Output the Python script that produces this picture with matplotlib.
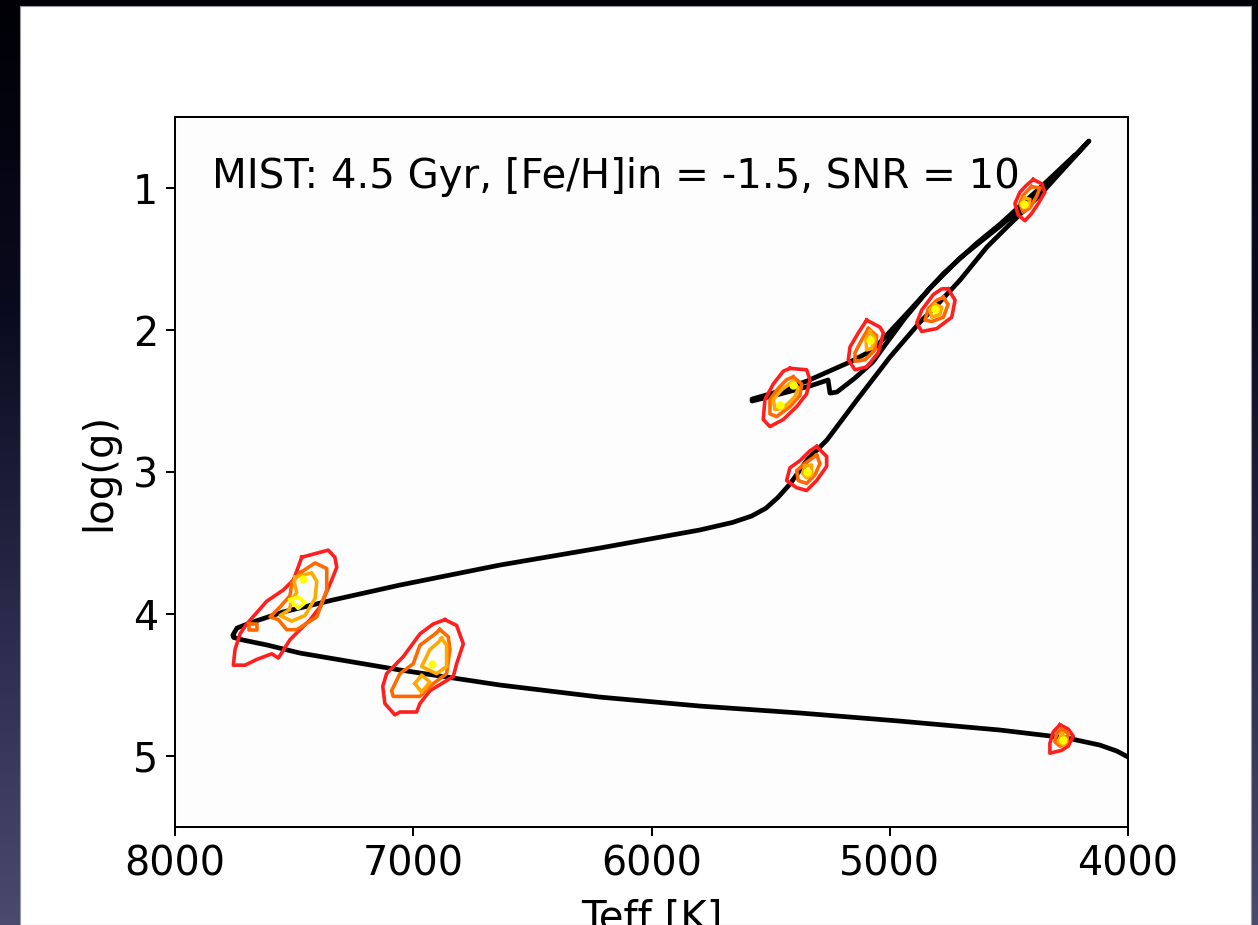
import numpy as np
import matplotlib
matplotlib.use("Agg")
import matplotlib.pyplot as plt
from matplotlib.colors import LinearSegmentedColormap
from matplotlib.patches import Rectangle

# MIST isochrone: main sequence -> turnoff -> subgiant -> RGB tip
ms_rgb_teff = [4000, 4047, 4118, 4256, 4537, 4957, 5377, 5797, 6216, 6636, 7056, 7475,
               7614, 7715, 7754, 7757, 7740, 7685, 7547, 7337, 7056, 6636, 6216, 5797,
               5660, 5580, 5520, 5470, 5419, 5347, 5264, 5138, 4999, 4873, 4802, 4705, 4592,
               4508, 4370, 4164]
ms_rgb_logg = [5.007, 4.965, 4.923, 4.873, 4.817, 4.754, 4.697, 4.648, 4.585, 4.500, 4.394, 4.275,
               4.218, 4.183, 4.165, 4.148, 4.099, 4.063, 3.986, 3.901, 3.796, 3.655, 3.535, 3.408,
               3.355, 3.310, 3.255, 3.180, 3.085, 2.915, 2.775, 2.493, 2.190, 1.944, 1.824, 1.648, 1.415,
               1.275, 1.049, 0.669]
# tip -> red clump
desc_teff = [4370, 4537, 4705, 4831, 4936, 5020, 5071, 5146, 5222, 5251, 5259, 5335, 5461, 5578]
desc_logg = [1.028, 1.268, 1.493, 1.704, 1.915, 2.106, 2.225, 2.338, 2.437, 2.444, 2.352, 2.394, 2.451, 2.500]
# red clump -> AGB
agb_teff = [5578, 5490, 5347, 5167, 5071, 4915, 4777, 4634, 4537, 4370, 4223]
agb_logg = [2.486, 2.444, 2.359, 2.225, 2.141, 1.859, 1.606, 1.387, 1.254, 1.000, 0.768]

# posterior contours, (Teff, logg) vertices, outer (red) to inner
a_red = [(7468, 3.60), (7357, 3.55), (7329, 3.60), (7321, 3.67), (7342, 3.76), (7391, 3.95),
         (7433, 4.04), (7517, 4.18), (7566, 4.31), (7594, 4.28), (7657, 4.32), (7706, 4.36),
         (7755, 4.36), (7748, 4.25), (7727, 4.14), (7699, 4.07), (7615, 3.91), (7545, 3.83),
         (7503, 3.76), (7483, 3.67)]
a_orange = [(7475, 3.71), (7412, 3.64), (7363, 3.68), (7363, 3.83), (7405, 4.02), (7489, 4.11),
            (7531, 4.11), (7566, 4.04), (7601, 4.02), (7559, 3.95), (7517, 3.87), (7510, 3.78)]
a_orange_island = [(7690, 4.07), (7656, 4.07), (7656, 4.11), (7690, 4.11)]
a_gold = [(7496, 3.74), (7426, 3.71), (7405, 3.77), (7412, 3.89), (7454, 4.01), (7510, 4.05),
          (7559, 4.01), (7520, 3.97), (7510, 3.90), (7489, 3.85), (7499, 3.78)]
a_yellow = [(7517, 3.90), (7483, 3.88), (7454, 3.92), (7483, 3.96)]

b_red = [(6867, 4.04), (6818, 4.08), (6790, 4.21), (6818, 4.35), (6832, 4.44), (6930, 4.54),
         (6972, 4.63), (6986, 4.69), (7056, 4.69), (7077, 4.71), (7119, 4.63), (7128, 4.51),
         (7112, 4.42), (7042, 4.30), (6972, 4.14), (6916, 4.07)]
b_orange = [(6888, 4.11), (6853, 4.16), (6846, 4.25), (6860, 4.42), (6916, 4.49), (6972, 4.58),
            (7084, 4.58), (7091, 4.54), (7056, 4.42), (7000, 4.35), (6972, 4.22), (6916, 4.15)]
b_gold = [(6881, 4.17), (6860, 4.22), (6860, 4.37), (6902, 4.42), (6965, 4.37), (6930, 4.25),
          (6895, 4.20)]
b_gold_island = [(6993, 4.49), (6965, 4.43), (6930, 4.48), (6965, 4.55)]

c_red = [(5419, 2.27), (5349, 2.28), (5335, 2.35), (5349, 2.45), (5391, 2.54), (5447, 2.63),
         (5503, 2.68), (5531, 2.63), (5524, 2.49), (5489, 2.38), (5447, 2.29)]
c_orange = [(5405, 2.33), (5370, 2.38), (5377, 2.46), (5419, 2.54), (5475, 2.61), (5503, 2.59),
            (5503, 2.49), (5468, 2.41), (5433, 2.35)]
c_gold = [(5405, 2.36), (5384, 2.41), (5398, 2.47), (5447, 2.55), (5482, 2.56), (5489, 2.49),
          (5454, 2.42)]

d_red = [(5097, 1.93), (5041, 1.98), (5027, 2.02), (5048, 2.16), (5097, 2.26), (5146, 2.28),
         (5174, 2.21), (5167, 2.12), (5132, 2.02)]
d_orange = [(5090, 1.99), (5055, 2.04), (5062, 2.14), (5104, 2.21), (5146, 2.22), (5146, 2.16),
            (5118, 2.07)]
d_gold = [(5083, 2.01), (5062, 2.06), (5076, 2.13), (5097, 2.14), (5100, 2.06)]

e_red = [(4755, 1.71), (4726, 1.79), (4740, 1.91), (4803, 1.99), (4866, 2.01), (4887, 1.95),
         (4866, 1.86), (4817, 1.75), (4782, 1.71)]
e_orange = [(4775, 1.77), (4755, 1.82), (4775, 1.91), (4824, 1.94), (4852, 1.93), (4838, 1.85),
            (4803, 1.79)]
e_gold = [(4810, 1.82), (4782, 1.84), (4789, 1.89), (4824, 1.91), (4831, 1.86)]

f_red = [(4398, 0.94), (4362, 0.97), (4349, 1.03), (4377, 1.11), (4405, 1.18), (4433, 1.23),
         (4461, 1.19), (4475, 1.11), (4454, 1.03), (4426, 0.98)]
f_orange = [(4405, 0.99), (4370, 1.00), (4384, 1.06), (4412, 1.14), (4440, 1.17), (4454, 1.11),
            (4440, 1.05)]
f_gold = [(4433, 1.07), (4412, 1.08), (4419, 1.13), (4440, 1.14), (4449, 1.11)]

g_red = [(5307, 2.82), (5265, 2.89), (5265, 2.96), (5307, 3.06), (5349, 3.13), (5391, 3.11),
         (5433, 3.06), (5419, 2.97), (5377, 2.92), (5335, 2.85)]
g_orange = [(5307, 2.88), (5293, 2.94), (5314, 3.02), (5349, 3.08), (5384, 3.06), (5391, 2.99),
            (5356, 2.94)]
g_gold = [(5356, 2.96), (5328, 2.95), (5328, 3.02), (5349, 3.04), (5366, 3.01)]

h_red = [(4286, 4.78), (4251, 4.81), (4230, 4.86), (4251, 4.93), (4279, 4.96), (4328, 4.98),
         (4328, 4.91), (4314, 4.83)]
h_orange = [(4279, 4.81), (4251, 4.84), (4258, 4.91), (4286, 4.93), (4307, 4.90), (4300, 4.84)]
h_gold = [(4279, 4.84), (4261, 4.88), (4272, 4.92), (4293, 4.90)]

# innermost (yellow) peaks
peak_teff = [7463, 6921, 5408, 5461, 5083, 4810, 4437, 5349, 4274]
peak_logg = [3.75, 4.35, 2.39, 2.53, 2.07, 1.85, 1.11, 3.00, 4.89]

RED, ORANGE, GOLD, YELLOW = "#ff1f1f", "#ff6a00", "#ffaa00", "#ffff00"

fig = plt.figure(figsize=(12.58, 9.25), dpi=100)

# slide background + white panel
bg = fig.add_axes([0, 0, 1, 1])
bg.axis("off")
grad = np.linspace(0, 1, 256)[:, None]
bg_cmap = LinearSegmentedColormap.from_list("slide", ["#000006", "#0a0a1e", "#2a2a4a", "#4a4a6c"])
bg.imshow(grad, aspect="auto", cmap=bg_cmap, extent=[0, 1, 0, 1], origin="upper")
bg.add_patch(Rectangle((20 / 1258, 0), 1231 / 1258, 919 / 925, transform=bg.transAxes,
                       facecolor="white", edgecolor="#999999", lw=0.8))
bg.set_xlim(0, 1)
bg.set_ylim(0, 1)

ax = fig.add_axes([0.1391, 0.1059, 0.7576, 0.7676])
ax.set_facecolor("#fdfdfd")

iso_teff = ms_rgb_teff + desc_teff + agb_teff
iso_logg = ms_rgb_logg + desc_logg + agb_logg
ax.plot(iso_teff, iso_logg, color="black", lw=3.4, solid_capstyle="round",
        solid_joinstyle="round", zorder=2)

contours = [
    (a_red, RED), (a_orange, ORANGE), (a_orange_island, ORANGE), (a_gold, GOLD), (a_yellow, YELLOW),
    (b_red, RED), (b_orange, ORANGE), (b_gold, GOLD), (b_gold_island, GOLD),
    (c_red, RED), (c_orange, ORANGE), (c_gold, GOLD),
    (d_red, RED), (d_orange, ORANGE), (d_gold, GOLD),
    (e_red, RED), (e_orange, ORANGE), (e_gold, GOLD),
    (f_red, RED), (f_orange, ORANGE), (f_gold, GOLD),
    (g_red, RED), (g_orange, ORANGE), (g_gold, GOLD),
    (h_red, RED), (h_orange, ORANGE), (h_gold, GOLD),
]
for poly, col in contours:
    t, g = zip(*(poly + poly[:1]))
    ax.plot(t, g, color=col, lw=2.6, solid_joinstyle="round", zorder=3)
ax.plot(peak_teff, peak_logg, "o", color=YELLOW, ms=5, zorder=4)

ax.set_xlim(8000, 4000)
ax.set_ylim(5.5, 0.5)
ax.set_xticks([8000, 7000, 6000, 5000, 4000])
ax.set_yticks([1, 2, 3, 4, 5])
ax.tick_params(labelsize=28.5, length=6.3, width=1.45, pad=6)
for s in ax.spines.values():
    s.set_linewidth(1.45)
ax.set_xlabel("Teff [K]", fontsize=29, labelpad=11)
ax.set_ylabel("log(g)", fontsize=29, labelpad=10)
ax.text(0.039, 0.90, "MIST: 4.5 Gyr, [Fe/H]in = -1.5, SNR = 10", transform=ax.transAxes,
        fontsize=29, va="baseline", ha="left")

fig.savefig("out.png", dpi=100)
